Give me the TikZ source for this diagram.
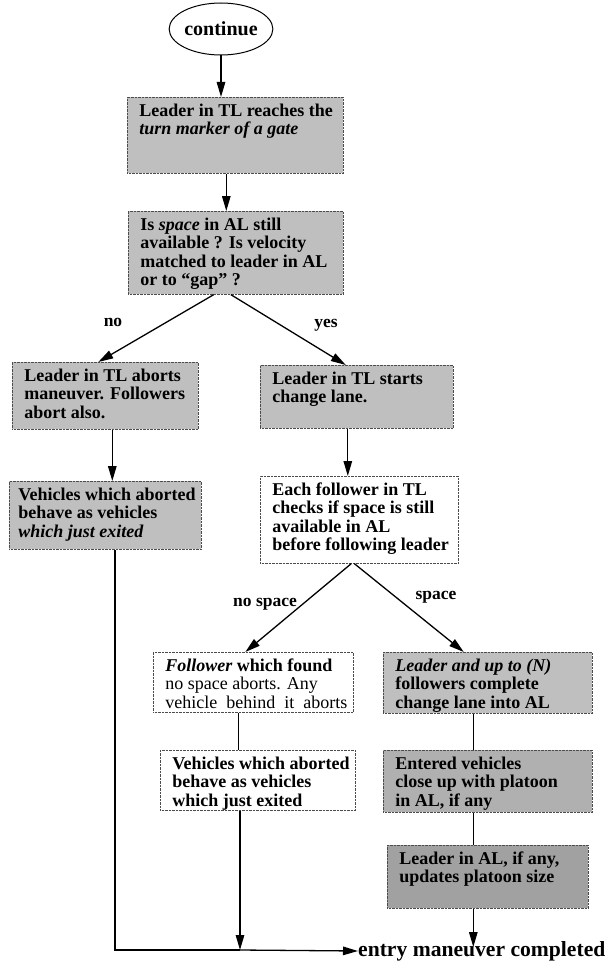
\documentclass[tikz,border=0pt]{standalone}
\usepackage{fontspec}
\setmainfont{Liberation Serif}
\usetikzlibrary{arrows.meta,shapes.geometric,calc}

% text box with fixed size, lines set from the top left without re-breaking
\newcommand{\boxtxt}[3]{\parbox[c][#2][t]{#1}{\begin{tabular}[t]{@{}l@{}}#3\end{tabular}}}
\newcommand{\plainline}{\mdseries\fontsize{18}{18.5}\selectfont}

\tikzset{
  base/.style={font=\bfseries\fontsize{18}{18.5}\selectfont, inner xsep=12pt, inner ysep=6pt, anchor=north west, align=left},
  gbox/.style={base, draw=black!70, dash pattern=on 0.7pt off 0.7pt, line width=0.6pt, fill=black!25},
  gboxdark/.style={gbox, fill=black!31},
  gboxdarker/.style={gbox, fill=black!37},
  wbox/.style={base, draw=black!70, dash pattern=on 0.7pt off 0.7pt, line width=0.6pt, fill=white},
  arr/.style={line width=1.3pt, -{Triangle[length=15pt,width=8.5pt]}},
  ln/.style={line width=1.3pt},
  lbl/.style={font=\bfseries\fontsize{17.5}{19}\selectfont, inner sep=0pt}
}

\begin{document}
\begin{tikzpicture}[x=1pt,y=-1pt]
\useasboundingbox (0,0) rectangle (609,963);

% start
\node[ellipse, draw, line width=1pt, minimum width=98pt, minimum height=52pt, inner sep=0pt,
      font=\bfseries\fontsize{20}{22}\selectfont] (cont) at (221,29) {continue};

% main column
\node[gbox] (b1) at (127,97) {\boxtxt{192pt}{64pt}{Leader in TL reaches the\\ \textit{turn marker of a gate}}};
\node[gbox] (b2) at (128,211) {\boxtxt{191pt}{71pt}{Is \textit{space} in AL still\\ available ? Is velocity\\ matched to leader in AL\\ or to ``gap'' ?}};

% abort branch
\node[gbox] (b3) at (12,362) {\boxtxt{162pt}{55pt}{Leader in TL aborts\\ maneuver. Followers\\ abort also.}};
\node[gbox, inner xsep=9pt] (b5) at (9,481) {\boxtxt{174pt}{56pt}{Vehicles which aborted\\ behave as vehicles\\ \textit{which just exited}}};

% change lane branch
\node[gbox] (b4) at (260,365) {\boxtxt{169pt}{51pt}{Leader in TL starts\\ change lane.}};
\node[wbox] (b6) at (260,476) {\boxtxt{174pt}{75pt}{Each follower in TL\\ checks if space is still\\ available in AL\\ before following leader}};

% followers
\node[wbox] (b7) at (153,652) {\boxtxt{176pt}{48pt}{\textit{Follower} which found\\ \plainline no space aborts. Any\\ \plainline vehicle\ \ behind\ \ it\ \ aborts}};
\node[wbox] (b8) at (160,750) {\boxtxt{171pt}{48pt}{Vehicles which aborted\\ behave as vehicles\\ which just exited}};
\node[gbox] (b9) at (383,652) {\boxtxt{185pt}{49pt}{\textit{Leader and up to (N)}\\ followers complete\\ change lane into AL}};
\node[gboxdark] (b10) at (383,750) {\boxtxt{185pt}{50pt}{Entered vehicles\\ close up with platoon\\ in AL, if any}};
\node[gboxdarker] (b11) at (387,845) {\boxtxt{177pt}{51pt}{Leader in AL, if any,\\ updates platoon size}};

% end
\node[font=\bfseries\fontsize{21.6}{23}\selectfont, anchor=west, inner sep=0pt] (done) at (358,951) {entry maneuver completed};
\coordinate (corner) at (115,950);
\coordinate (join) at (240,950);
\coordinate (rcol) at ([xshift=-14.5pt]b9.south);

% connectors
\draw[arr] (cont.south) -- (cont.south |- b1.north);
\draw[arr] ([xshift=-9pt]b1.south) -- ([xshift=-9pt]b1.south |- b2.north);
\draw[arr] ([xshift=-22pt]b2.south) -- ([xshift=-7pt]b3.north);
\draw[arr] ([xshift=-5pt]b2.south) -- ([xshift=-11pt]b4.north);
\draw[arr] ([xshift=7pt]b3.south) -- ([xshift=7pt]b3.south |- b5.north);
\draw[arr] ([xshift=-9pt]b4.south) -- ([xshift=-9pt]b4.south |- b6.north);
\draw[arr] ([xshift=-8pt]b6.south) -- ([xshift=-8pt]b7.north);
\draw[arr] ([xshift=-5pt]b6.south) -- ([xshift=-24pt]b9.north);
\draw[ln] ([xshift=-15pt]b7.south) -- ([xshift=-15pt]b7.south |- b8.north);
\draw[ln] (rcol) -- (rcol |- b10.north);
\draw[ln] (rcol |- b10.south) -- (rcol |- b11.north);
\draw[arr] (rcol |- b11.south) -- ($(rcol |- done.center)+(0,-4)$);
\draw[arr] (join |- b8.south) -- (join);
\draw[ln] (b5.south -| corner) -- (corner) -- (join);
\draw[arr] (join) -- (done.west);

% branch labels
\node[lbl] (no) at (113,322) {no};
\node[lbl] (yes) at (326,325) {yes};
\node[lbl] (nospace) at (265,604) {no space};
\node[lbl] (space) at (436,597) {space};
\end{tikzpicture}
\end{document}
